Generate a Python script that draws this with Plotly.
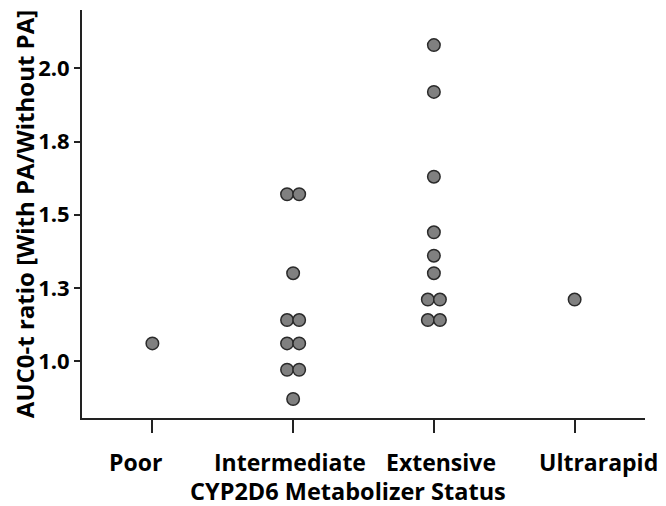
import plotly.graph_objects as go

categories = ["Poor", "Intermediate", "Extensive", "Ultrarapid"]
poor = [1.06]
intermediate = [1.57, 1.57, 1.30, 1.14, 1.14, 1.06, 1.06, 0.97, 0.97, 0.87]
extensive = [2.08, 1.92, 1.63, 1.44, 1.36, 1.30, 1.21, 1.21, 1.14, 1.14]
ultrarapid = [1.21]
series = [poor, intermediate, extensive, ultrarapid]

y_tickvals = [1.0, 1.25, 1.5, 1.75, 2.0]
y_ticktext = ["1.0", "1.3", "1.5", "1.8", "2.0"]

x_title = "CYP2D6 Metabolizer Status"
y_title = "AUC0-t ratio [With PA/Without PA]"

DODGE = 0.043  # horizontal spread for tied values (category units)

xs, ys = [], []
for ci, vals in enumerate(series):
    counts = {}
    for v in vals:
        counts[v] = counts.get(v, 0) + 1
    seen = {}
    for v in vals:
        n = counts[v]
        k = seen.get(v, 0)
        seen[v] = k + 1
        off = (k - (n - 1) / 2) * 2 * DODGE
        xs.append(ci + off)
        ys.append(v)

FONT = "Open Sans"
FS = 24
fig = go.Figure(go.Scatter(
    x=xs, y=ys, mode="markers",
    marker=dict(size=12.5, color="#808080", line=dict(color="#2a2a2a", width=1.5)),
    hoverinfo="y",
))

# page body has an 8px default margin; figure sized/offset to compensate
fig.update_layout(
    width=658, height=498,
    margin=dict(l=74, r=21, t=2, b=88),
    plot_bgcolor="white", paper_bgcolor="white",
    showlegend=False,
    font=dict(family=FONT, color="black"),
)
fig.update_xaxes(
    range=[-0.5, 3.5], tickvals=list(range(len(categories))), ticktext=categories,
    showticklabels=False, automargin=False,
    showgrid=False, zeroline=False, showline=True, linecolor="#222", linewidth=2,
    ticks="outside", ticklen=13, tickwidth=2, tickcolor="#222",
)
fig.update_yaxes(
    range=[0.805, 2.2], tickvals=y_tickvals, ticktext=y_ticktext,
    automargin=False,
    showgrid=False, zeroline=False, showline=True, linecolor="#222", linewidth=2,
    ticks="outside", ticklen=6, tickwidth=2, tickcolor="#222",
    tickfont=dict(family=FONT, size=FS - 2, color="black", weight="bold"),
    title=dict(text="<b>" + y_title + "</b>", font=dict(family=FONT, size=FS), standoff=4),
)

# category labels (slightly offset from ticks, as in the original figure)
label_shifts = [-17, -3, 7, 24]
for i, (cat, sh) in enumerate(zip(categories, label_shifts)):
    fig.add_annotation(
        x=i, y=0, xref="x", yref="paper", text="<b>" + cat + "</b>",
        showarrow=False, xanchor="center", yanchor="top", xshift=sh, yshift=-26,
        font=dict(family=FONT, size=23, color="black"),
    )
fig.add_annotation(
    x=0.5, y=0, xref="paper", yref="paper", text="<b>" + x_title + "</b>",
    showarrow=False, xanchor="center", yanchor="top", xshift=-16, yshift=-55,
    font=dict(family=FONT, size=23.5, color="black"),
)

fig.write_html("out.html")
